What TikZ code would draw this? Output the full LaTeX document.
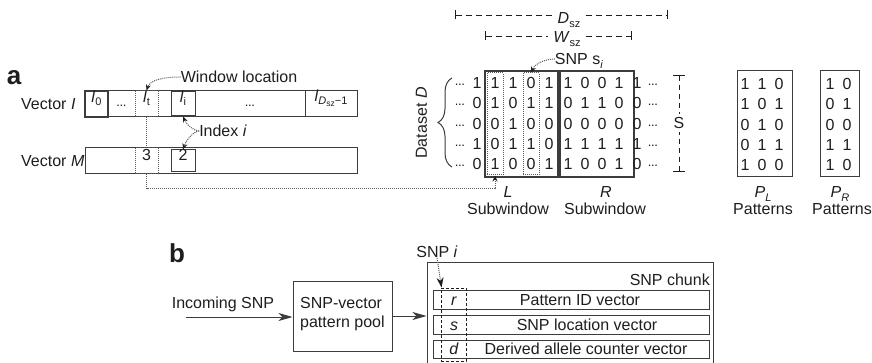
\documentclass[tikz,border=0pt]{standalone}
\usepackage{fontspec}
\setmainfont{Liberation Sans}
\usetikzlibrary{arrows.meta,fit,decorations.pathreplacing}

\definecolor{ink}{HTML}{1E1E1E}
\definecolor{edge}{HTML}{3C3C3C}
\definecolor{dotc}{HTML}{5A5A5A}

% lowered indices in smaller sizes, and centred dots
\newcommand\dn[1]{\raisebox{-0.45ex}{\fontsize{11}{11}\selectfont #1}}
\newcommand\ddn[1]{\raisebox{-0.35ex}{\fontsize{8.5}{8.5}\selectfont #1}}
\newcommand\mdots{\raisebox{3pt}{\fontsize{13}{13}\selectfont.\kern-0.4pt.\kern-0.4pt.}}

\begin{document}
\begin{tikzpicture}[x=1pt,y=-1pt,
  every node/.style={font=\fontsize{16}{19}\selectfont, text=ink, inner sep=0pt},
  txt/.style={text height=11.5pt, text depth=0pt},
  frame/.style={draw=edge, line width=1pt, inner sep=0pt},
  heavy/.style={draw=edge, line width=1.7pt, inner sep=0pt},
  dotbox/.style={draw=dotc, line width=1pt, dash pattern=on 1pt off 1pt, inner sep=0pt},
  dotline/.style={draw=dotc, line width=1pt, dash pattern=on 1pt off 1pt},
  dashline/.style={draw=ink, line width=0.9pt, dash pattern=on 6pt off 4pt},
  dashbox/.style={draw=ink, line width=0.9pt, dash pattern=on 3pt off 2pt, inner sep=0pt},
  tip/.style={-{Stealth[length=6pt,width=5pt,color=ink]}},
  bigtip/.style={-{Stealth[length=14pt,width=8pt,inset=4pt]}},
  panel/.style={font=\fontsize{26}{26}\selectfont\bfseries, text=ink},
]
\useasboundingbox (0,0) rectangle (872,363);
\fill[white] (0,0) rectangle (872,363);

% ---------- panel a: index vectors ----------
\node[panel, anchor=base] (pa) at (14,85) {a};

\node[txt, anchor=west] (labI) at (21,104) {Vector \textit{I}};
\node[frame, fit={(85,91) (357,117)}] (vecI) {};
\node[heavy, txt, fit={(85,91) (108,117)}] (l0) {\textit{l}\dn{0}};
\node[txt] (dI1) at (121.5,104) {\mdots};
\node[dotbox, txt, fit={(135,91) (158,117)}] (lt) {\textit{l}\dn{t}};
\node[frame, txt, fit={(171,92) (195,116)}] (li) {\textit{l}\dn{i}};
\node[txt] (dI2) at (250,104) {\mdots};
\node[frame, txt, fit={(305,91) (357,117)}] (llast) {\textit{l}\dn{\textit{D}\ddn{sz}−1}};

\node[txt, anchor=west] (labM) at (21,161) {Vector \textit{M}};
\node[frame, fit={(85,148) (357,174)}] (vecM) {};
\node[dotbox, txt, fit={(135,148) (158,174)}] (m3) {3};
\node[frame, txt, fit={(171,150) (195,172)}] (m2) {2};

\node[txt] (winloc) at (239,77) {Window location};
\node[txt] (idx) at (223,131) {Index \textit{i}};

% ---------- panel a: dataset window ----------
\node[heavy, fit={(485,71) (558,177)}] (Lbox) {};
\node[heavy, fit={(560,71) (634,177)}] (Rbox) {};
\node[dotbox, fit={(487,73) (503,175)}] (c1) {};
\node[dotbox, fit={(523,73) (539,175)}] (c3) {};

\foreach \row [count=\r] in {{1,1,1,0,1,1,0,0,1,1},{0,1,0,1,1,0,1,1,0,0},{0,0,1,0,0,0,0,0,0,0},{1,0,1,1,0,1,1,1,1,1},{0,1,0,0,1,1,0,0,1,0}} {
  \pgfmathsetmacro\yy{83+20.25*(\r-1)}
  \node[txt] (dl-\r) at (460,\yy) {\mdots};
  \node[txt] (dr-\r) at (653,\yy) {\mdots};
  \foreach \v [count=\c] in \row {
    \pgfmathsetmacro\xx{{477,495,513,531,549,568,585,602,619,637}[\c-1]}
    \node[txt] (v-\r-\c) at (\xx,\yy) {\v};
  }
}

\coordinate (braceB) at (452,167);
\coordinate (braceT) at (452,78);
\draw[edge, line width=1pt, decorate, decoration={brace, amplitude=14pt}] (braceB) -- (braceT);
\node[txt, rotate=90] (dataset) at (421,123) {Dataset \textit{D}};

\coordinate (dszA) at (455,15);
\coordinate (dszB) at (668,15);
\draw[dashline, {Bar[width=9pt]}-{Bar[width=9pt]}] (dszA) -- (dszB);
\node[txt, fill=white, inner xsep=5pt] (dsz) at (569,18) {\textit{D}\dn{sz}};

\coordinate (wszA) at (485,36);
\coordinate (wszB) at (632,36);
\draw[dashline, {Bar[width=9pt]}-{Bar[width=9pt]}] (wszA) -- (wszB);
\node[txt, fill=white, inner xsep=5pt] (wsz) at (567,37) {\textit{W}\dn{sz}};

\node[txt] (snpsi) at (579,59) {SNP s\dn{\textit{i}}};

\coordinate (sT) at (679,75);
\coordinate (sB) at (679,172);
\draw[dashline, dash pattern=on 5pt off 4pt, {Bar[width=12pt]}-{Bar[width=12pt]}] (sT) -- (sB);
\node[txt, fill=white, inner ysep=3pt] (slab) at (679,123) {S};

\node[txt] (Llab) at (508,192) {\textit{L}};
\node[txt] (Lsub) at (508,209) {Subwindow};
\node[txt] (Rlab) at (606,192) {\textit{R}};
\node[txt] (Rsub) at (605,209) {Subwindow};

% ---------- panel a: pattern tables ----------
\node[frame, fit={(737,71) (792,177)}] (PL) {};
\node[frame, fit={(820,71) (859,177)}] (PR) {};
\foreach \row [count=\r] in {{1,1,0},{1,0,1},{0,1,0},{0,1,1},{1,0,0}} {
  \pgfmathsetmacro\yy{84+20.25*(\r-1)}
  \foreach \v [count=\c] in \row {
    \pgfmathsetmacro\xx{{745,762,779}[\c-1]}
    \node[txt] (pl-\r-\c) at (\xx,\yy) {\v};
  }
}
\foreach \row [count=\r] in {{1,0},{0,1},{0,0},{1,1},{1,0}} {
  \pgfmathsetmacro\yy{84+20.25*(\r-1)}
  \foreach \v [count=\c] in \row {
    \pgfmathsetmacro\xx{{830,847}[\c-1]}
    \node[txt] (pr-\r-\c) at (\xx,\yy) {\v};
  }
}
\node[txt] (PLlab) at (763,192) {\textit{P}\dn{\textit{L}}};
\node[txt] (PLsub) at (763,209) {Patterns};
\node[txt] (PRlab) at (840,192) {\textit{P}\dn{\textit{R}}};
\node[txt] (PRsub) at (842,209) {Patterns};

% ---------- panel a: connectors ----------
\draw[dotline, tip] (winloc.west) .. controls (163,77) and (150,80) .. (lt.north);
\draw[dotline, tip] (idx.west) .. controls (195,131) and (187,126) .. (li.south);
\draw[dotline, tip] (idx.west) .. controls (195,131) and (187,138) .. (m2.north);
\draw[dotline] (lt.south) -- (m3.north);
\coordinate (bend) at (146.5,189);
\draw[dotline, tip] (m3.south) -- (bend) -| (c1.south);
\draw[dotline, tip] (snpsi.west) .. controls (548,59) and (536,62) .. (c3.north);

% ---------- panel b ----------
\node[panel, anchor=base] (pb) at (177,262) {b};

\node[txt] (inc) at (223,303) {Incoming SNP};
\coordinate (incS) at (186,317);
\node[frame, fit={(293,281) (392,351)}] (pool) {};
\node[txt, anchor=west] (poolA) at (300,303) {SNP-vector};
\node[txt, anchor=west] (poolB) at (300,322) {pattern pool};
\draw[edge, line width=1pt, bigtip] (incS) -- (pool.west |- incS);

\node[frame, fit={(427,262) (713,385)}] (chunk) {};
\draw[edge, line width=1pt, bigtip] (pool.east) -- (pool.east -| chunk.west);
\node[txt, anchor=east] (chunkLab) at (710,280) {SNP chunk};

\node[frame, fit={(433,290) (709,309)}] (barR) {};
\node[frame, fit={(433,315) (709,334)}] (barS) {};
\node[frame, fit={(433,340) (709,358)}] (barD) {};
\node[dashbox, fit={(441,288) (466,361)}] (snpcol) {};

\node[txt] (lr) at (454,299.5) {\textit{r}};
\node[txt] (ls) at (454,324.5) {\textit{s}};
\node[txt] (ld) at (454,349) {\textit{d}};
\node[txt] (tR) at (580,299.5) {Pattern ID vector};
\node[txt] (tS) at (587,324.5) {SNP location vector};
\node[txt] (tD) at (586,349) {Derived allele counter vector};

\node[txt] (snpi) at (437,252) {SNP \textit{i}};
\draw[dotline, -{Stealth[length=10pt,width=7pt,color=ink]}] (snpi.south) -- ([xshift=1pt]snpcol.north west);
\end{tikzpicture}
\end{document}
